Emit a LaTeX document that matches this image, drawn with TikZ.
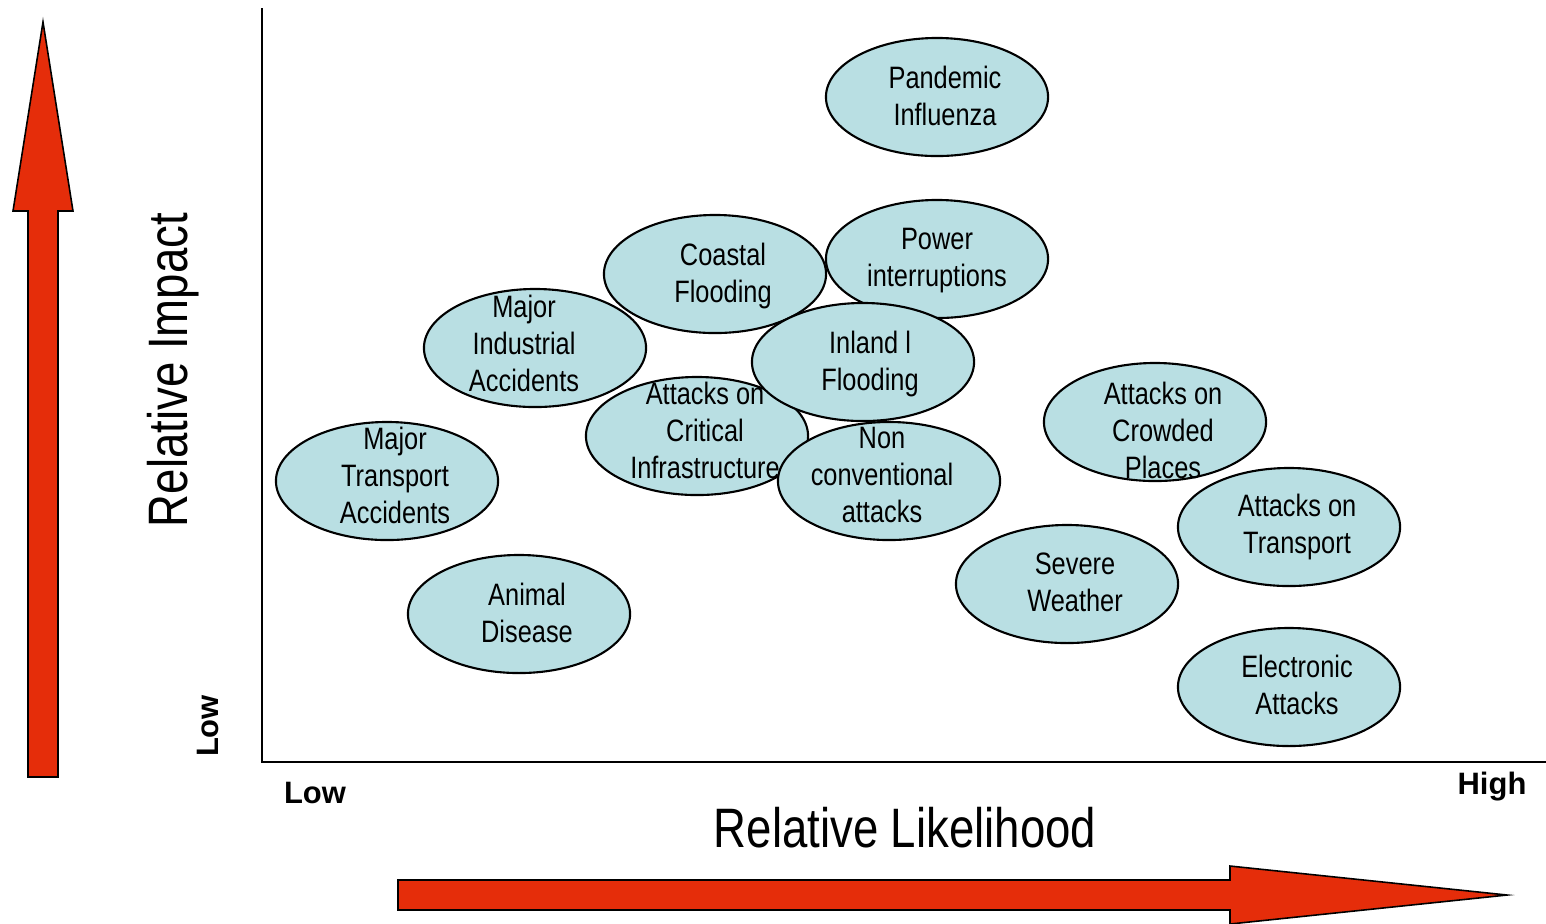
\documentclass[tikz,border=0pt]{standalone}
\usepackage{fontspec}
\setmainfont{Liberation Sans}[FakeStretch=0.82]
\newfontfamily\widesans{Liberation Sans}
\usepackage{tikz}
\usetikzlibrary{shapes.geometric}

\definecolor{hazardfill}{RGB}{185,223,227}
\definecolor{scalered}{RGB}{229,45,10}

\tikzset{
    hazard/.style={ellipse,draw,fill=hazardfill,line width=0.6pt,minimum width=2.22cm,minimum height=1.18cm,inner sep=0pt},
    hazardtext/.style={align=center,inner sep=0pt,font=\fontsize{8.8}{10.5}\selectfont},
    scalearrow/.style={draw,fill=scalered,line width=0.45pt},
    endlabel/.style={inner sep=0pt,font=\widesans\bfseries\fontsize{8.8}{10.5}\selectfont},
    axistitle/.style={inner sep=0pt,font=\fontsize{15.8}{18}\selectfont}
}

\begin{document}
\begin{tikzpicture}[x=0.01cm,y=-0.01cm]
        \useasboundingbox (0,0) rectangle (1546,923);
        % axes
        \draw[line width=0.6pt] (262,8) -- (262,762) -- (1546,762);
        % big arrows
        \draw[scalearrow] (28,777) -- (28,211) -- (13,211) -- (43,22) -- (73,211) -- (58,211) -- (58,777) -- cycle;
        \draw[scalearrow] (398,880) -- (1230,880) -- (1230,866) -- (1507,895) -- (1230,924) -- (1230,910) -- (398,910) -- cycle;
        \node[axistitle,rotate=90] (impact) at (173,370) {Relative Impact};
        \node[axistitle] (likelihood) at (905,828) {Relative Likelihood};
        \node[endlabel,rotate=90] (lowimpact) at (208,726) {Low};
        \node[endlabel] (lowlikely) at (315,793) {Low};
        \node[endlabel] (highlikely) at (1492,787) {High};
        % hazards
        \node[hazard] (pandemic) at (937,97) {};
        \node[hazard] (coastal) at (715,274) {};
        \node[hazard] (power) at (937,259) {};
        \node[hazard] (industrial) at (535,348) {};
        \node[hazard] (critical) at (697,436) {};
        \node[hazard] (inland) at (863,362) {};
        \node[hazard] (nonconv) at (889,481) {};
        \node[hazard] (crowded) at (1155,422) {};
        \node[hazard] (transportacc) at (387,481) {};
        \node[hazard] (transport) at (1289,527) {};
        \node[hazard] (weather) at (1067,584) {};
        \node[hazard] (animal) at (519,614) {};
        \node[hazard] (electronic) at (1289,687) {};
        % hazard names
        \node[hazardtext] (pandemic-t) at (945,96) {Pandemic\\Influenza};
        \node[hazardtext] (coastal-t) at (723,276) {Coastal\\Flooding};
        \node[hazardtext] (power-t) at (937,261) {Power\\interruptions};
        \node[hazardtext] (industrial-t) at (524,343) {Major\\Industrial\\Accidents};
        \node[hazardtext] (critical-t) at (705,430) {Attacks on\\Critical\\Infrastructure};
        \node[hazardtext] (inland-t) at (870,364) {Inland l\\Flooding};
        \node[hazardtext] (nonconv-t) at (882,475) {Non\\conventional\\attacks};
        \node[hazardtext] (crowded-t) at (1163,430) {Attacks on\\Crowded\\Places};
        \node[hazardtext] (transportacc-t) at (395,475) {Major\\Transport\\Accidents};
        \node[hazardtext] (transport-t) at (1297,527) {Attacks on\\Transport};
        \node[hazardtext] (weather-t) at (1075,582) {Severe\\Weather};
        \node[hazardtext] (animal-t) at (527,613) {Animal\\Disease};
        \node[hazardtext] (electronic-t) at (1297,685) {Electronic\\Attacks};
    \end{tikzpicture}
\end{document}
